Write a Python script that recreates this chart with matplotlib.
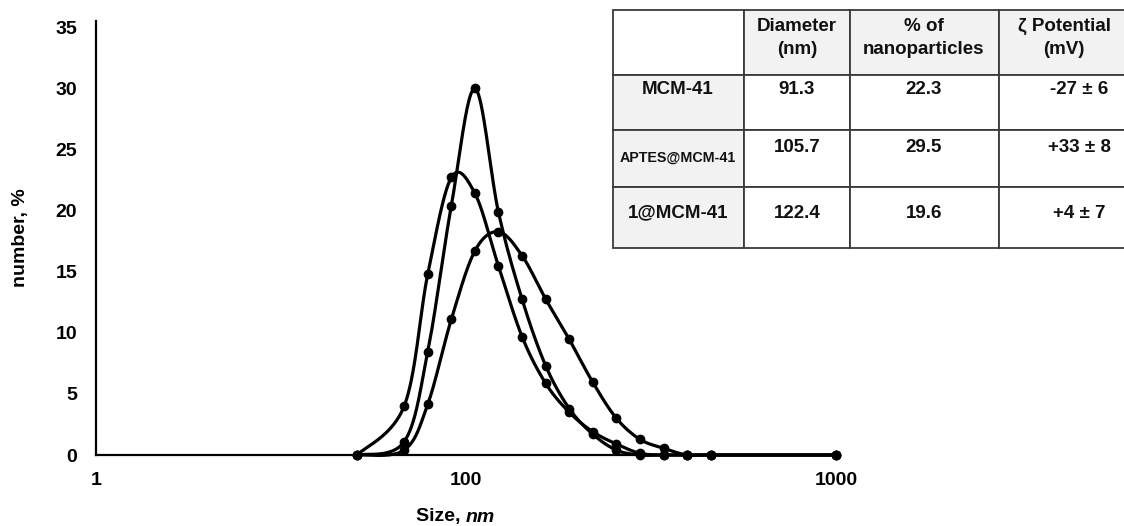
import numpy as np
import matplotlib
matplotlib.use("Agg")
import matplotlib.pyplot as plt
from matplotlib.patches import Rectangle

plt.rcParams['font.family'] = ['Liberation Sans', 'DejaVu Sans']
plt.rcParams['font.weight'] = 'bold'

# ---------------- data ----------------
size_nm = [50.75, 68.06, 78.82, 91.28, 105.7, 122.4, 141.8, 164.2, 190.1,
           220.2, 255.0, 295.3, 342.0, 396.1, 458.7, 1000.0]
mcm41 = [0, 4.0, 14.8, 22.7, 21.4, 15.45, 9.67, 5.86, 3.5, 1.9, 0.9, 0.14,
         0, 0, 0, 0]
aptes_mcm41 = [0, 1.09, 8.45, 20.4, 29.98, 19.85, 12.73, 7.3, 3.8, 1.7, 0.4,
               0, 0, 0, 0, 0]
one_mcm41 = [0, 0.4, 4.15, 11.1, 16.7, 18.26, 16.3, 12.75, 9.46, 5.94, 3.0,
             1.28, 0.55, 0, 0, 0]

x_ticks = [10, 100, 1000]
x_ticklabels = ["1", "100", "1000"]
y_ticks = [0, 5, 10, 15, 20, 25, 30, 35]

tbl_headers = ["Diameter\n(nm)", "% of\nnanoparticles", "ζ Potential\n(mV)"]
tbl_samples = ["MCM-41", "APTES@MCM-41", "1@MCM-41"]
tbl_diameter = ["91.3", "105.7", "122.4"]
tbl_percent = ["22.3", "29.5", "19.6"]
tbl_zeta = ["-27 ± 6", "+33 ± 8", "+4 ± 7"]


def smooth(xs, ys, n=40):
    """Excel-like smoothed line (Catmull-Rom / Bezier) in log-x space."""
    lx = np.log10(np.asarray(xs, float))
    y = np.asarray(ys, float)
    P = np.column_stack([lx, y])
    m = len(P)
    out = []
    for i in range(m - 1):
        p0 = P[max(i - 1, 0)]
        p1 = P[i]
        p2 = P[i + 1]
        p3 = P[min(i + 2, m - 1)]
        b1 = p1 + (p2 - p0) / 6.0
        b2 = p2 - (p3 - p1) / 6.0
        t = np.linspace(0, 1, n)[:, None]
        seg = ((1 - t) ** 3) * p1 + 3 * ((1 - t) ** 2) * t * b1 \
            + 3 * (1 - t) * t ** 2 * b2 + t ** 3 * p2
        out.append(seg if i == 0 else seg[1:])
    out = np.vstack(out)
    return 10 ** out[:, 0], out[:, 1]


W, H = 1124, 526
fig = plt.figure(figsize=(W / 100, H / 100), dpi=100)
fig.patch.set_facecolor("white")

ax = fig.add_axes([96 / W, (H - 455) / H, (836 - 96) / W, (455 - 21) / H])
ax.set_xscale("log")
ax.set_xlim(10, 1000)
ax.set_ylim(0, 35.5)

for ys in (mcm41, aptes_mcm41, one_mcm41):
    sx, sy = smooth(size_nm, ys)
    ax.plot(sx, sy, color="black", lw=2.3, solid_capstyle="round",
            clip_on=False, zorder=3)
    ax.plot(size_nm, ys, linestyle="none", marker="o", ms=6,
            color="black", clip_on=False, zorder=4)

ax.set_xticks(x_ticks)
ax.set_xticklabels(x_ticklabels)
ax.xaxis.set_minor_locator(matplotlib.ticker.NullLocator())
ax.set_yticks(y_ticks)
ax.tick_params(axis="both", length=0, labelsize=14)
ax.tick_params(axis="y", pad=13.5)
ax.tick_params(axis="x", pad=12)
for lab in ax.get_xticklabels() + ax.get_yticklabels():
    lab.set_fontweight("bold")

for s in ("top", "right"):
    ax.spines[s].set_visible(False)
for s in ("left", "bottom"):
    ax.spines[s].set_linewidth(1.6)
    ax.spines[s].set_color("black")

# axis titles
fig.text(466 / W, 1 - 517 / H, "Size, ", ha="right", va="center",
         fontsize=14, fontweight="bold")
fig.text(466 / W, 1 - 517 / H, "nm", ha="left", va="center",
         fontsize=14, fontweight="bold", style="italic")
fig.text(20 / W, 1 - 238 / H, "number, %", ha="center", va="center",
         rotation=90, fontsize=14, fontweight="bold")

# ---------------- table ----------------
tab = fig.add_axes([0, 0, 1, 1], zorder=5)
tab.set_xlim(0, W)
tab.set_ylim(H, 0)
tab.axis("off")
tab.patch.set_alpha(0)

col_edges = [612.5, 743.5, 850, 998.5, 1168]
row_edges = [10, 75, 130, 187, 248]
grey = "#f2f2f2"
for r in range(4):
    for c in range(4):
        fill = "white"
        if (r == 0 and c > 0) or (c == 0 and r > 0):
            fill = grey
        tab.add_patch(Rectangle((col_edges[c], row_edges[r]),
                                col_edges[c + 1] - col_edges[c],
                                row_edges[r + 1] - row_edges[r],
                                facecolor=fill, edgecolor="#3a3a3a",
                                lw=1.3, clip_on=False))

hdr_x = [797, 924, 1064]
for hx, h in zip(hdr_x, tbl_headers):
    tab.text(hx, 38, h, ha="center", va="center", fontsize=13.5,
             fontweight="bold", linespacing=1.5, color="#111111")

row_y = [90, 147, 213]
samp_y = [90, 158, 213]
samp_fs = [13.5, 10.3, 13.5]
for i in range(3):
    tab.text(678, samp_y[i], tbl_samples[i], ha="center", va="center",
             fontsize=samp_fs[i], fontweight="bold", color="#111111")
    tab.text(797, row_y[i], tbl_diameter[i], ha="center", va="center",
             fontsize=13.5, fontweight="bold", color="#111111")
    tab.text(924, row_y[i], tbl_percent[i], ha="center", va="center",
             fontsize=13.5, fontweight="bold", color="#111111")
    tab.text(1079, row_y[i], tbl_zeta[i], ha="center", va="center",
             fontsize=13.5, fontweight="bold", color="#111111")

fig.savefig("out.png", dpi=100)
